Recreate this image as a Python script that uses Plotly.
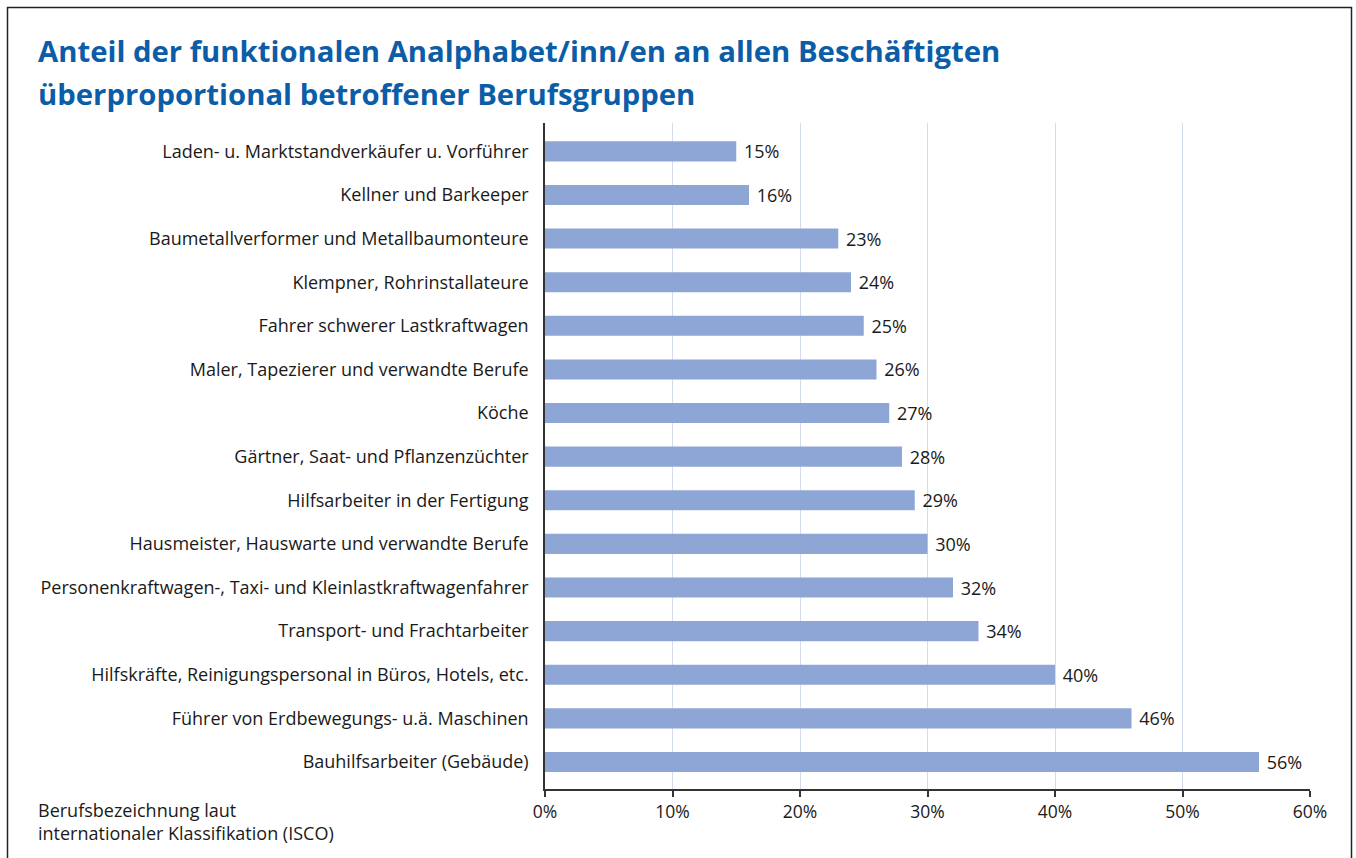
import plotly.graph_objects as go

categories = [
    "Laden- u. Marktstandverkäufer u. Vorführer",
    "Kellner und Barkeeper",
    "Baumetallverformer und Metallbaumonteure",
    "Klempner, Rohrinstallateure",
    "Fahrer schwerer Lastkraftwagen",
    "Maler, Tapezierer und verwandte Berufe",
    "Köche",
    "Gärtner, Saat- und Pflanzenzüchter",
    "Hilfsarbeiter in der Fertigung",
    "Hausmeister, Hauswarte und verwandte Berufe",
    "Personenkraftwagen-, Taxi- und Kleinlastkraftwagenfahrer",
    "Transport- und Frachtarbeiter",
    "Hilfskräfte, Reinigungspersonal in Büros, Hotels, etc.",
    "Führer von Erdbewegungs- u.ä. Maschinen",
    "Bauhilfsarbeiter (Gebäude)",
]
values = [15, 16, 23, 24, 25, 26, 27, 28, 29, 30, 32, 34, 40, 46, 56]
tick_vals = [0, 10, 20, 30, 40, 50, 60]
tick_text = ["0%", "10%", "20%", "30%", "40%", "50%", "60%"]
title_lines = [
    "Anteil der funktionalen Analphabet/inn/en an allen Beschäftigten",
    "überproportional betroffener Berufsgruppen",
]
note_text = "Berufsbezeichnung laut<br>internationaler Klassifikation (ISCO)"

FONT = "Open Sans"
TXT = "#1a1a1a"

fig = go.Figure(go.Bar(
    y=categories, x=values, orientation="h",
    marker=dict(color="#8EA6D6", line=dict(width=0)),
    width=0.46,
    text=[f" {v}%" for v in values], textposition="outside",
    constraintext="none",
    textfont=dict(family=FONT, size=18, color=TXT),
    cliponaxis=False,
    hoverinfo="skip",
))

def px_x(p):
    return (p - 545) / 765

def px_y(p):
    return (789 - p) / 666

annotations = [
    dict(text=f"<b>{line}</b>", xref="paper", yref="paper",
         x=px_x(36), y=px_y(yc), xanchor="left", yanchor="middle",
         showarrow=False, font=dict(family=FONT, size=29.3, color="#0B5DA8"))
    for line, yc in zip(title_lines, [51, 94])
]
annotations.append(dict(text=note_text, xref="paper", yref="paper",
                        x=px_x(36), y=px_y(796), xanchor="left", yanchor="top",
                        align="left", showarrow=False,
                        font=dict(family=FONT, size=18, color=TXT)))

fig.update_layout(
    width=1356, height=858,
    margin=dict(l=545, r=46, t=123, b=69),
    paper_bgcolor="white", plot_bgcolor="white",
    showlegend=False,
    font=dict(family=FONT, size=17, color=TXT),
    xaxis=dict(
        range=[0, 60], tickvals=tick_vals, ticktext=tick_text,
        showgrid=True, gridcolor="#D4DCF0", gridwidth=1,
        showline=True, linecolor="#333333", linewidth=1.5,
        ticks="outside", ticklen=6, tickcolor="#333333", tickwidth=1.5,
        zeroline=False, tickfont=dict(family=FONT, size=17.5, color=TXT),
    ),
    yaxis=dict(
        range=[14.62, -0.65], showgrid=False,
        showline=True, linecolor="#333333", linewidth=1.5,
        ticks="", ticklabelstandoff=11,
        tickfont=dict(family=FONT, size=18, color=TXT),
    ),
    annotations=annotations,
    shapes=[
        dict(type="rect", xref="paper", yref="paper",
             x0=px_x(7.5), x1=px_x(1351.5),
             y0=px_y(880), y1=px_y(7.5),
             line=dict(color="#222222", width=1.5), fillcolor="rgba(0,0,0,0)", layer="below"),
    ],
)

fig.write_html("out.html", config={"displayModeBar": False},
               post_script="document.body.style.margin='0';document.body.style.overflow='hidden';")
